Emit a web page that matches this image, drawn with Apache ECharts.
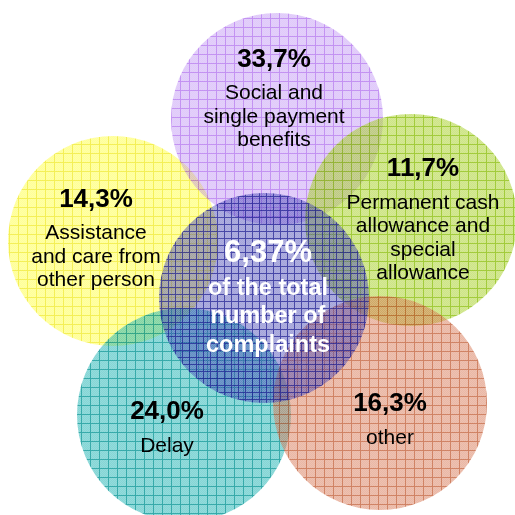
<!DOCTYPE html>
<html>
<head>
<meta charset="utf-8">
<script src="https://cdn.jsdelivr.net/npm/echarts@6/dist/echarts.min.js"></script>
<style>
  html, body { margin: 0; padding: 0; background: #fff; }
  #main { width: 515px; height: 515px; }
</style>
</head>
<body>
<div id="main"></div>
<script>
// complaint categories and their share
const categories = [
  "Assistance\nand care from\nother person",
  "Social and\nsingle payment\nbenefits",
  "Permanent cash\nallowance and\nspecial\nallowance",
  "Delay",
  "other"
];
const shares = [14.3, 33.7, 11.7, 24.0, 16.3];
const totalShare = 6.37;
const totalText = "of the total\nnumber of\ncomplaints";

// circle layout in the 515 x 515 frame
const circleX = [113, 277, 411, 184, 380, 264];
const circleY = [241, 119, 220, 415, 403, 298];
const circleR = [105, 106, 106, 107, 107, 105];
const labelOffsets = [[-17, -6], [-3, -24], [12, -4], [-17, 9], [10, 13], [4, -2]];

// base colour, grid line colour, grid step
const looks = [
  ["rgba(255,255,0,0.4)", "rgba(230,220,0,0.45)", 9],
  ["rgba(160,90,240,0.32)", "rgba(150,60,230,0.4)", 9],
  ["rgba(150,200,0,0.47)", "rgba(130,185,0,0.58)", 9],
  ["rgba(0,170,170,0.48)", "rgba(0,140,140,0.6)", 9],
  ["rgba(210,100,60,0.46)", "rgba(185,85,45,0.55)", 9],
  ["rgba(40,40,170,0.42)", "rgba(20,20,140,0.65)", 7]
];

function makePattern(fill, line, step) {
  const c = document.createElement("canvas");
  c.width = c.height = step;
  const g = c.getContext("2d");
  g.fillStyle = fill;
  g.fillRect(0, 0, step, step);
  g.fillStyle = "rgba(255,255,255,0.12)";
  for (let y = 0; y < step; y++) {
    for (let x = 0; x < step; x++) {
      if ((x + y) % 2) g.fillRect(x, y, 1, 1);
    }
  }
  g.fillStyle = line;
  g.fillRect(0, 0, step, 1);
  g.fillRect(0, 1, 1, step - 1);
  return c;
}
const patterns = looks.map(l => ({ image: makePattern(l[0], l[1], l[2]), repeat: "repeat" }));

const fmt = (v, d) => v.toFixed(d).replace(".", ",") + "%";

function labelFor(i) {
  if (i === 5) {
    return "{p|" + fmt(totalShare, 2) + "}\n" +
      totalText.split("\n").map(s => "{t|" + s + "}").join("\n");
  }
  return "{p|" + fmt(shares[i], 1) + "}\n" +
    categories[i].split("\n").map(s => "{t|" + s + "}").join("\n");
}

const data = circleX.map((x, i) => [x, circleY[i], circleR[i]]);

const font = "Liberation Sans, Arial, sans-serif";
const richOuter = {
  p: { fontSize: 26, fontWeight: "bold", lineHeight: 44, fill: "#000", fontFamily: font },
  t: { fontSize: 21, lineHeight: 23.5, fill: "#000", fontFamily: font }
};
const richHub = {
  p: { fontSize: 31, fontWeight: "bold", lineHeight: 42, fill: "#fff", fontFamily: font },
  t: { fontSize: 23.5, fontWeight: "bold", lineHeight: 28.5, fill: "#fff", fontFamily: font }
};

const myChart = echarts.init(document.getElementById("main"));
myChart.setOption({
  animation: false,
  grid: { left: 0, right: 0, top: 0, bottom: 0 },
  xAxis: { type: "value", min: 0, max: 515, show: false },
  yAxis: { type: "value", min: 0, max: 515, inverse: true, show: false },
  series: [
    {
      type: "custom",
      coordinateSystem: "cartesian2d",
      data: data,
      renderItem: (params, api) => {
        const i = params.dataIndex;
        const c = api.coord([api.value(0), api.value(1)]);
        const r = api.size([api.value(2), 0])[0];
        const off = labelOffsets[i];
        return {
          type: "group",
          children: [
            {
              type: "circle",
              shape: { cx: c[0], cy: c[1], r: r },
              style: { fill: patterns[i] }
            },
            {
              type: "text",
              x: c[0] + off[0],
              y: c[1] + off[1],
              z2: 100,
              style: {
                text: labelFor(i),
                rich: i === 5 ? richHub : richOuter,
                align: "center",
                verticalAlign: "middle",
                fontFamily: font
              }
            }
          ]
        };
      }
    }
  ]
});
</script>
</body>
</html>
